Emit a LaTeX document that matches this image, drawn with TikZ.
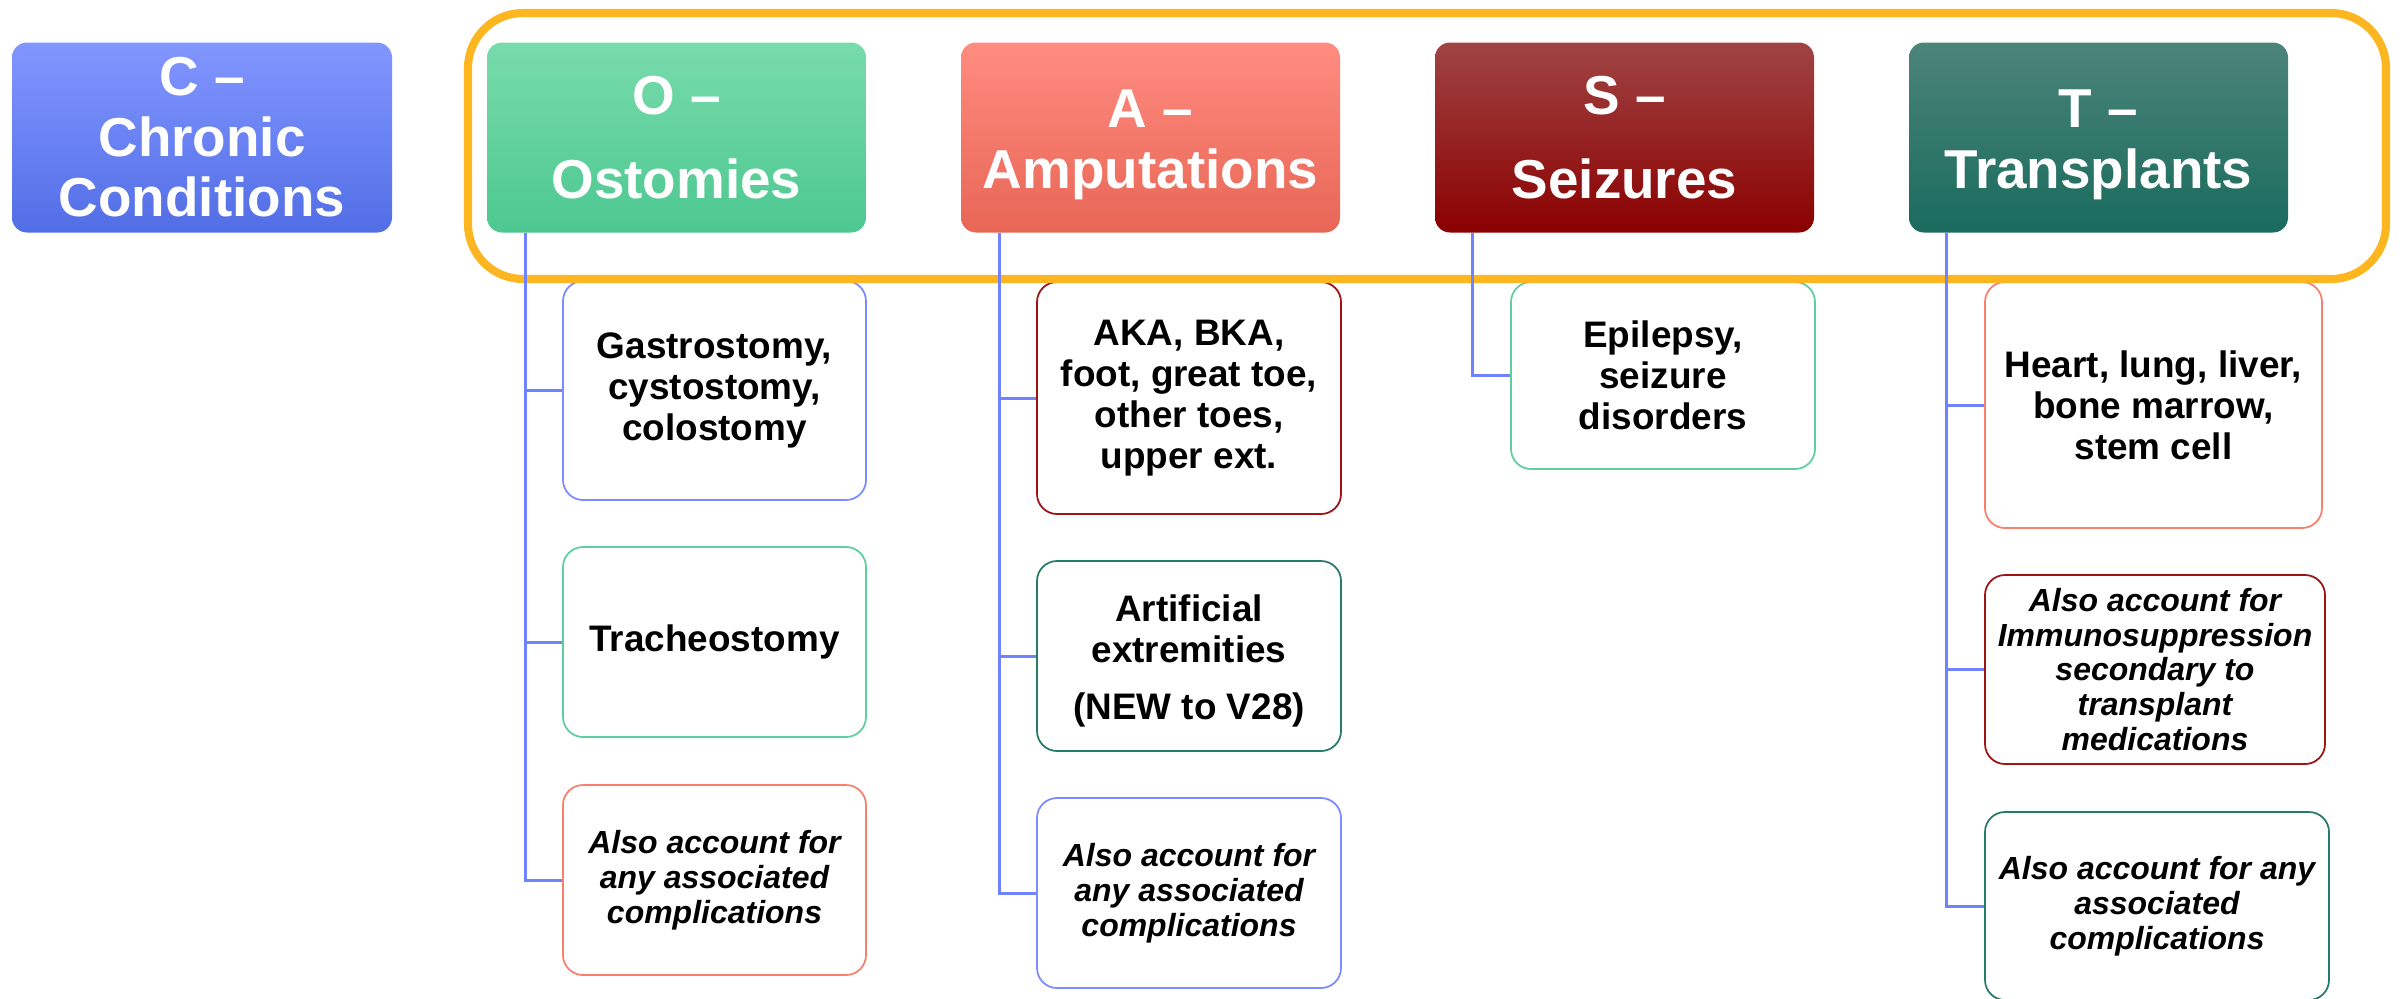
\documentclass[tikz,border=0pt]{standalone}
\usepackage{fontspec}
\setmainfont{Liberation Sans}
\usepackage{xcolor}
\usetikzlibrary{positioning}

\definecolor{cblueT}{HTML}{8296FF}
\definecolor{cblueB}{HTML}{526EE6}
\definecolor{cgreenT}{HTML}{78DBAC}
\definecolor{cgreenB}{HTML}{4DC890}
\definecolor{csalmonT}{HTML}{FF8C80}
\definecolor{csalmonB}{HTML}{E86656}
\definecolor{credT}{HTML}{A04444}
\definecolor{credB}{HTML}{8B0000}
\definecolor{ctealT}{HTML}{4C8478}
\definecolor{ctealB}{HTML}{196B5E}
\definecolor{frameorange}{HTML}{FDB520}
\definecolor{linkblue}{HTML}{7083FF}
\definecolor{edgeblue}{HTML}{7A8CFF}
\definecolor{edgegreen}{HTML}{5ED09C}
\definecolor{edgesalmon}{HTML}{F7806F}
\definecolor{edgered}{HTML}{9E1414}
\definecolor{edgeteal}{HTML}{2A7A6A}

\begin{document}
\begin{tikzpicture}[
  node distance=0.95cm,
  head/.style={rounded corners=0.15cm, minimum width=3.79cm, minimum height=1.9cm,
    inner sep=0pt, outer sep=0pt, text=white, align=center,
    font=\bfseries\fontsize{15.6}{17.2}\selectfont},
  item/.style={draw, line width=0.5pt, rounded corners=0.2cm, fill=white,
    inner sep=0pt, align=center, font=\bfseries\fontsize{10.5}{11.7}\selectfont},
  note/.style={item, font=\bfseries\itshape\fontsize{9.1}{9.9}\selectfont},
  link/.style={linkblue, line width=0.85pt},
]
  \useasboundingbox (0,0) rectangle (24.04,-9.98);

  % 标题框
  \node[head, minimum width=3.8cm, top color=cblueT, bottom color=cblueB] (C) at (2.02,-1.375)
    {C --\\Chronic\\Conditions};
  \node[head, right=of C, top color=cgreenT, bottom color=cgreenB] (O) {O --\\[0.23cm]Ostomies};
  \node[head, right=of O, top color=csalmonT, bottom color=csalmonB] (A)
    {\rule{0pt}{14.8pt}A --\\Amputations};
  \node[head, right=of A, top color=credT, bottom color=credB] (S) {S --\\[0.23cm]Seizures};
  \node[head, right=of S, top color=ctealT, bottom color=ctealB] (T)
    {\rule{0pt}{14.8pt}T --\\Transplants};

  % O 列
  \node[item, draw=edgeblue, minimum width=3.03cm, minimum height=2.19cm] (o1) at (7.145,-3.905)
    {Gastrostomy,\\cystostomy,\\colostomy};
  \node[item, draw=edgegreen, minimum width=3.03cm, minimum height=1.9cm] (o2) at (7.145,-6.42)
    {Tracheostomy};
  \node[note, draw=edgesalmon, minimum width=3.03cm, minimum height=1.9cm] (o3) at (7.145,-8.8)
    {Also account for\\any associated\\complications};

  % A 列
  \node[item, draw=edgered, minimum width=3.04cm, minimum height=2.32cm] (a1) at (11.89,-3.98)
    {AKA, BKA,\\foot, great toe,\\other toes,\\upper ext.};
  \node[item, draw=edgeteal, minimum width=3.04cm, minimum height=1.9cm] (a2) at (11.89,-6.56)
    {\rule{0pt}{10.6pt}Artificial\\extremities\\[0.16cm](NEW to V28)};
  \node[note, draw=edgeblue, minimum width=3.04cm, minimum height=1.9cm] (a3) at (11.89,-8.93)
    {Also account for\\any associated\\complications};

  % S 列
  \node[item, draw=edgegreen, minimum width=3.04cm, minimum height=1.87cm] (s1) at (16.63,-3.755)
    {Epilepsy,\\seizure\\disorders};

  % T 列
  \node[item, draw=edgesalmon, minimum width=3.37cm, minimum height=2.46cm] (t1) at (21.535,-4.05)
    {Heart, lung, liver,\\bone marrow,\\stem cell};
  \node[note, draw=edgered, minimum width=3.4cm, minimum height=1.89cm] (t2) at (21.55,-6.695)
    {Also account for\\Immunosuppression\\secondary to\\transplant\\medications};
  \node[note, draw=edgeteal, minimum width=3.44cm, minimum height=1.88cm] (t3) at (21.57,-9.06)
    {Also account for any\\associated\\complications};

  % 橙色外框
  \draw[frameorange, line width=2.3pt, rounded corners=0.55cm] (4.68,-0.13) rectangle (23.86,-2.79);

  % 连线
  \foreach \k in {1,2,3} \draw[link] ([xshift=0.38cm]O.south west) |- (o\k.west);
  \foreach \k in {1,2,3} \draw[link] ([xshift=0.38cm]A.south west) |- (a\k.west);
  \draw[link] ([xshift=0.37cm]S.south west) |- (s1.west);
  \foreach \k in {1,2,3} \draw[link] ([xshift=0.37cm]T.south west) |- (t\k.west);
\end{tikzpicture}
\end{document}
